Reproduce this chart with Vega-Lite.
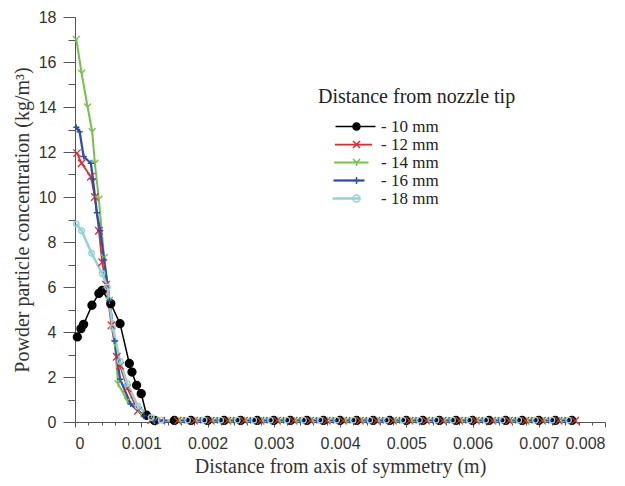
{
  "$schema": "https://vega.github.io/schema/vega-lite/v6.json",
  "autosize": "none",
  "width": 530,
  "height": 405,
  "padding": {"left": 75, "top": 17, "right": 20, "bottom": 64},
  "background": "white",
  "config": {
    "view": {"stroke": null},
    "axis": {"grid": false, "domainColor": "#555", "tickColor": "#555", "labelFont": "Liberation Sans", "labelFontSize": 16, "labelColor": "#333", "titleFont": "Liberation Serif", "titleFontSize": 20, "titleFontWeight": "normal", "titleColor": "#333"}
  },
  "data": {"values": [
    {"s":"- 10 mm","x":0.000035,"y":3.78},{"s":"- 10 mm","x":0.00009,"y":4.15},{"s":"- 10 mm","x":0.00013,"y":4.34},{"s":"- 10 mm","x":0.000256,"y":5.19},{"s":"- 10 mm","x":0.00036,"y":5.71},{"s":"- 10 mm","x":0.00041,"y":5.85},{"s":"- 10 mm","x":0.00054,"y":5.26},{"s":"- 10 mm","x":0.00068,"y":4.37},{"s":"- 10 mm","x":0.00082,"y":2.6},{"s":"- 10 mm","x":0.00086,"y":2.22},{"s":"- 10 mm","x":0.00093,"y":1.63},{"s":"- 10 mm","x":0.001,"y":1.26},{"s":"- 10 mm","x":0.00108,"y":0.3},{"s":"- 10 mm","x":0.0012,"y":0.07},
    {"s":"- 10 mm","x":0.0015,"y":0.07},{"s":"- 10 mm","x":0.00175,"y":0.07},{"s":"- 10 mm","x":0.002,"y":0.07},{"s":"- 10 mm","x":0.00225,"y":0.07},{"s":"- 10 mm","x":0.0025,"y":0.07},{"s":"- 10 mm","x":0.00275,"y":0.07},{"s":"- 10 mm","x":0.003,"y":0.07},{"s":"- 10 mm","x":0.00325,"y":0.07},{"s":"- 10 mm","x":0.0035,"y":0.07},{"s":"- 10 mm","x":0.00375,"y":0.07},{"s":"- 10 mm","x":0.004,"y":0.07},{"s":"- 10 mm","x":0.00425,"y":0.07},{"s":"- 10 mm","x":0.0045,"y":0.07},{"s":"- 10 mm","x":0.00475,"y":0.07},{"s":"- 10 mm","x":0.005,"y":0.07},{"s":"- 10 mm","x":0.00525,"y":0.07},{"s":"- 10 mm","x":0.0055,"y":0.07},{"s":"- 10 mm","x":0.00575,"y":0.07},{"s":"- 10 mm","x":0.006,"y":0.07},{"s":"- 10 mm","x":0.00625,"y":0.07},{"s":"- 10 mm","x":0.0065,"y":0.07},{"s":"- 10 mm","x":0.00675,"y":0.07},{"s":"- 10 mm","x":0.007,"y":0.07},{"s":"- 10 mm","x":0.00725,"y":0.07},{"s":"- 10 mm","x":0.0075,"y":0.07},
    {"s":"- 12 mm","x":0.00003,"y":11.95},{"s":"- 12 mm","x":0.0001,"y":11.5},{"s":"- 12 mm","x":0.00024,"y":10.9},{"s":"- 12 mm","x":0.0003,"y":10.0},{"s":"- 12 mm","x":0.00036,"y":8.5},{"s":"- 12 mm","x":0.00041,"y":7.1},{"s":"- 12 mm","x":0.00047,"y":6.1},{"s":"- 12 mm","x":0.00055,"y":4.3},{"s":"- 12 mm","x":0.00063,"y":2.9},{"s":"- 12 mm","x":0.00068,"y":2.5},{"s":"- 12 mm","x":0.00079,"y":1.5},{"s":"- 12 mm","x":0.00095,"y":0.5},{"s":"- 12 mm","x":0.00115,"y":0.09},{"s":"- 12 mm","x":0.0013,"y":0.06},
    {"s":"- 12 mm","x":0.00155,"y":0.06},{"s":"- 12 mm","x":0.0018,"y":0.06},{"s":"- 12 mm","x":0.00205,"y":0.06},{"s":"- 12 mm","x":0.0023,"y":0.06},{"s":"- 12 mm","x":0.00255,"y":0.06},{"s":"- 12 mm","x":0.0028,"y":0.06},{"s":"- 12 mm","x":0.00305,"y":0.06},{"s":"- 12 mm","x":0.0033,"y":0.06},{"s":"- 12 mm","x":0.00355,"y":0.06},{"s":"- 12 mm","x":0.0038,"y":0.06},{"s":"- 12 mm","x":0.00405,"y":0.06},{"s":"- 12 mm","x":0.0043,"y":0.06},{"s":"- 12 mm","x":0.00455,"y":0.06},{"s":"- 12 mm","x":0.0048,"y":0.06},{"s":"- 12 mm","x":0.00505,"y":0.06},{"s":"- 12 mm","x":0.0053,"y":0.06},{"s":"- 12 mm","x":0.00555,"y":0.06},{"s":"- 12 mm","x":0.0058,"y":0.06},{"s":"- 12 mm","x":0.00605,"y":0.06},{"s":"- 12 mm","x":0.0063,"y":0.06},{"s":"- 12 mm","x":0.00655,"y":0.06},{"s":"- 12 mm","x":0.0068,"y":0.06},{"s":"- 12 mm","x":0.00705,"y":0.06},{"s":"- 12 mm","x":0.0073,"y":0.06},{"s":"- 12 mm","x":0.00755,"y":0.06},
    {"s":"- 14 mm","x":0.00002,"y":17.0},{"s":"- 14 mm","x":0.0001,"y":15.5},{"s":"- 14 mm","x":0.00019,"y":14.0},{"s":"- 14 mm","x":0.00026,"y":12.9},{"s":"- 14 mm","x":0.0003,"y":11.5},{"s":"- 14 mm","x":0.00036,"y":9.9},{"s":"- 14 mm","x":0.00044,"y":7.3},{"s":"- 14 mm","x":0.00052,"y":5.4},{"s":"- 14 mm","x":0.0006,"y":3.5},{"s":"- 14 mm","x":0.00065,"y":1.7},{"s":"- 14 mm","x":0.00079,"y":0.95},{"s":"- 14 mm","x":0.001,"y":0.35},{"s":"- 14 mm","x":0.0012,"y":0.07},
    {"s":"- 14 mm","x":0.0016,"y":0.07},{"s":"- 14 mm","x":0.00185,"y":0.07},{"s":"- 14 mm","x":0.0021,"y":0.07},{"s":"- 14 mm","x":0.00235,"y":0.07},{"s":"- 14 mm","x":0.0026,"y":0.07},{"s":"- 14 mm","x":0.00285,"y":0.07},{"s":"- 14 mm","x":0.0031,"y":0.07},{"s":"- 14 mm","x":0.00335,"y":0.07},{"s":"- 14 mm","x":0.0036,"y":0.07},{"s":"- 14 mm","x":0.00385,"y":0.07},{"s":"- 14 mm","x":0.0041,"y":0.07},{"s":"- 14 mm","x":0.00435,"y":0.07},{"s":"- 14 mm","x":0.0046,"y":0.07},{"s":"- 14 mm","x":0.00485,"y":0.07},{"s":"- 14 mm","x":0.0051,"y":0.07},{"s":"- 14 mm","x":0.00535,"y":0.07},{"s":"- 14 mm","x":0.0056,"y":0.07},{"s":"- 14 mm","x":0.00585,"y":0.07},{"s":"- 14 mm","x":0.0061,"y":0.07},{"s":"- 14 mm","x":0.00635,"y":0.07},{"s":"- 14 mm","x":0.0066,"y":0.07},{"s":"- 14 mm","x":0.00685,"y":0.07},{"s":"- 14 mm","x":0.0071,"y":0.07},{"s":"- 14 mm","x":0.00735,"y":0.07},
    {"s":"- 16 mm","x":0.00002,"y":13.1},{"s":"- 16 mm","x":0.00007,"y":12.9},{"s":"- 16 mm","x":0.00013,"y":11.8},{"s":"- 16 mm","x":0.00024,"y":11.5},{"s":"- 16 mm","x":0.00027,"y":10.8},{"s":"- 16 mm","x":0.00033,"y":9.3},{"s":"- 16 mm","x":0.00038,"y":8.5},{"s":"- 16 mm","x":0.00044,"y":7.2},{"s":"- 16 mm","x":0.00052,"y":5.4},{"s":"- 16 mm","x":0.0006,"y":3.6},{"s":"- 16 mm","x":0.00068,"y":1.9},{"s":"- 16 mm","x":0.00084,"y":0.8},{"s":"- 16 mm","x":0.00104,"y":0.27},{"s":"- 16 mm","x":0.0012,"y":0.09},{"s":"- 16 mm","x":0.00135,"y":0.07},
    {"s":"- 16 mm","x":0.00165,"y":0.07},{"s":"- 16 mm","x":0.0019,"y":0.07},{"s":"- 16 mm","x":0.00215,"y":0.07},{"s":"- 16 mm","x":0.0024,"y":0.07},{"s":"- 16 mm","x":0.00265,"y":0.07},{"s":"- 16 mm","x":0.0029,"y":0.07},{"s":"- 16 mm","x":0.00315,"y":0.07},{"s":"- 16 mm","x":0.0034,"y":0.07},{"s":"- 16 mm","x":0.00365,"y":0.07},{"s":"- 16 mm","x":0.0039,"y":0.07},{"s":"- 16 mm","x":0.00415,"y":0.07},{"s":"- 16 mm","x":0.0044,"y":0.07},{"s":"- 16 mm","x":0.00465,"y":0.07},{"s":"- 16 mm","x":0.0049,"y":0.07},{"s":"- 16 mm","x":0.00515,"y":0.07},{"s":"- 16 mm","x":0.0054,"y":0.07},{"s":"- 16 mm","x":0.00565,"y":0.07},{"s":"- 16 mm","x":0.0059,"y":0.07},{"s":"- 16 mm","x":0.00615,"y":0.07},{"s":"- 16 mm","x":0.0064,"y":0.07},{"s":"- 16 mm","x":0.00665,"y":0.07},{"s":"- 16 mm","x":0.0069,"y":0.07},{"s":"- 16 mm","x":0.00715,"y":0.07},{"s":"- 16 mm","x":0.0074,"y":0.07},
    {"s":"- 18 mm","x":0.00002,"y":8.8},{"s":"- 18 mm","x":0.0001,"y":8.5},{"s":"- 18 mm","x":0.00025,"y":7.5},{"s":"- 18 mm","x":0.00041,"y":6.6},{"s":"- 18 mm","x":0.00049,"y":6.0},{"s":"- 18 mm","x":0.00057,"y":4.2},{"s":"- 18 mm","x":0.00068,"y":2.7},{"s":"- 18 mm","x":0.00079,"y":1.7},{"s":"- 18 mm","x":0.00095,"y":0.7},{"s":"- 18 mm","x":0.00115,"y":0.2},{"s":"- 18 mm","x":0.0013,"y":0.08},
    {"s":"- 18 mm","x":0.0017,"y":0.08},{"s":"- 18 mm","x":0.00195,"y":0.08},{"s":"- 18 mm","x":0.0022,"y":0.08},{"s":"- 18 mm","x":0.00245,"y":0.08},{"s":"- 18 mm","x":0.0027,"y":0.08},{"s":"- 18 mm","x":0.00295,"y":0.08},{"s":"- 18 mm","x":0.0032,"y":0.08},{"s":"- 18 mm","x":0.00345,"y":0.08},{"s":"- 18 mm","x":0.0037,"y":0.08},{"s":"- 18 mm","x":0.00395,"y":0.08},{"s":"- 18 mm","x":0.0042,"y":0.08},{"s":"- 18 mm","x":0.00445,"y":0.08},{"s":"- 18 mm","x":0.0047,"y":0.08},{"s":"- 18 mm","x":0.00495,"y":0.08},{"s":"- 18 mm","x":0.0052,"y":0.08},{"s":"- 18 mm","x":0.00545,"y":0.08},{"s":"- 18 mm","x":0.0057,"y":0.08},{"s":"- 18 mm","x":0.00595,"y":0.08},{"s":"- 18 mm","x":0.0062,"y":0.08},{"s":"- 18 mm","x":0.00645,"y":0.08},{"s":"- 18 mm","x":0.0067,"y":0.08},{"s":"- 18 mm","x":0.00695,"y":0.08},{"s":"- 18 mm","x":0.0072,"y":0.08},{"s":"- 18 mm","x":0.00745,"y":0.08}
  ]},
  "resolve": {"axis": {"x": "independent", "y": "independent"}},
  "layer": [
    {
      "mark": {"type": "line", "clip": false},
      "encoding": {
        "x": {"field": "x", "type": "quantitative", "scale": {"domain": [0, 0.008], "nice": false, "zero": false},
          "axis": {"values": [0, 0.001, 0.002, 0.003, 0.004, 0.005, 0.006, 0.007, 0.008], "format": ".3~f", "tickSize": 5, "labelPadding": 8, "title": "Distance from axis of symmetry (m)", "titlePadding": 5}},
        "y": {"field": "y", "type": "quantitative", "scale": {"domain": [0, 18], "nice": false},
          "axis": {"values": [0, 2, 4, 6, 8, 10, 12, 14, 16, 18], "tickSize": 12, "labelPadding": 7, "title": "Powder particle concentration (kg/m³)", "titlePadding": 6}},
        "stroke": {"field": "s", "type": "nominal",
          "scale": {"domain": ["- 10 mm", "- 12 mm", "- 14 mm", "- 16 mm", "- 18 mm"], "range": ["#000000", "#e8262b", "#72c444", "#2c4db4", "#8ed4d8"]},
          "legend": {"title": "Distance from nozzle tip", "orient": "none", "legendX": 243, "legendY": 70, "titleFont": "Liberation Serif", "titleFontSize": 20, "titleFontWeight": "normal", "titleColor": "#222", "titleLimit": 400, "titlePadding": 11, "labelFont": "Liberation Serif", "labelFontSize": 17, "labelColor": "#222", "labelLimit": 200, "labelOffset": 46, "symbolType": "M2.25,0L12.25,0", "symbolSize": 64, "symbolStrokeWidth": 2.2, "rowPadding": 0}},
        "strokeWidth": {"field": "s", "type": "ordinal", "scale": {"domain": ["- 10 mm", "- 12 mm", "- 14 mm", "- 16 mm", "- 18 mm"], "range": [1.5, 2.5, 2, 2, 3]}, "legend": null}
      }
    },
    {
      "mark": {"type": "point", "filled": false, "strokeWidth": 1.3, "opacity": 1, "clip": false},
      "encoding": {
        "x": {"field": "x", "type": "quantitative", "scale": {"domain": [0, 0.008], "nice": false, "zero": false},
          "axis": {"orient": "bottom", "values": [0.0002, 0.0004, 0.0006, 0.0008, 0.0012, 0.0014, 0.0016, 0.0018, 0.0022, 0.0024, 0.0026, 0.0028, 0.0032, 0.0034, 0.0036, 0.0038, 0.0042, 0.0044, 0.0046, 0.0048, 0.0052, 0.0054, 0.0056, 0.0058, 0.0062, 0.0064, 0.0066, 0.0068, 0.0072, 0.0074, 0.0076, 0.0078], "labels": false, "domain": false, "tickSize": 3, "title": null}},
        "y": {"field": "y", "type": "quantitative", "scale": {"domain": [0, 18], "nice": false},
          "axis": {"orient": "left", "values": [1, 3, 5, 7, 9, 11, 13, 15, 17], "labels": false, "domain": false, "tickSize": 7, "title": null}},
        "color": {"field": "s", "type": "nominal",
          "scale": {"domain": ["- 10 mm", "- 12 mm", "- 14 mm", "- 16 mm", "- 18 mm", "- 20 mm"], "range": ["#000000", "#e8262b", "#72c444", "#2c4db4", "#8ed4d8", "#999999"]},
          "legend": {"values": ["- 10 mm", "- 12 mm", "- 14 mm", "- 16 mm", "- 18 mm"], "title": null, "orient": "none", "legendX": 273, "legendY": 101, "labelFont": "Liberation Serif", "labelFontSize": 17, "labelColor": "transparent", "labelExpr": "' '", "labelLimit": 200, "labelOffset": 0, "symbolSize": 50, "symbolStrokeWidth": 1.5, "rowPadding": 0}},
        "shape": {"field": "s", "type": "nominal", "scale": {"domain": ["- 10 mm", "- 12 mm", "- 14 mm", "- 16 mm", "- 18 mm", "- 20 mm"], "range": ["M-1,0A1,1,0,1,1,1,0A1,1,0,1,1,-1,0M-0.6,0A0.6,0.6,0,1,1,0.6,0A0.6,0.6,0,1,1,-0.6,0M-0.25,0A0.25,0.25,0,1,1,0.25,0A0.25,0.25,0,1,1,-0.25,0", "M-1,-1L1,1M-1,1L1,-1", "M-1,-1L0,0L1,-1M0,0L0,1", "M-1,0L1,0M0,-1L0,1", "circle", "square"]}},
        "size": {"field": "s", "type": "ordinal", "scale": {"domain": ["- 10 mm", "- 12 mm", "- 14 mm", "- 16 mm", "- 18 mm"], "range": [64, 30, 30, 50, 45]}, "legend": null},
        "fill": {"condition": {"test": "datum.s === '- 10 mm'", "value": "#000000"}, "value": "transparent"}
      }
    }
  ]
}
